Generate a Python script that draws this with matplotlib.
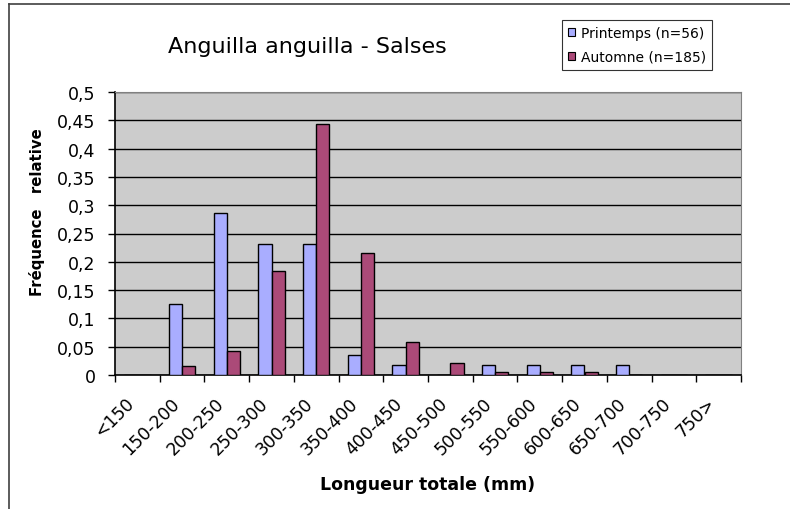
import numpy as np
import matplotlib
matplotlib.use("Agg")
import matplotlib.pyplot as plt
from matplotlib.lines import Line2D
from matplotlib.patches import Patch
from matplotlib.transforms import ScaledTranslation

# ======================
# DATA
# ======================
classes = ["<150", "150-200", "200-250", "250-300", "300-350", "350-400",
           "400-450", "450-500", "500-550", "550-600", "600-650", "650-700",
           "700-750", "750>"]
printemps = [0, 0.125, 0.286, 0.232, 0.232, 0.036, 0.018, 0,
             0.018, 0.018, 0.018, 0.018, 0, 0]
automne = [0, 0.016, 0.043, 0.184, 0.443, 0.216, 0.059, 0.022,
           0.005, 0.005, 0.005, 0, 0, 0]
labels = ["Printemps (n=56)", "Automne (n=185)"]
colors = ["#A9ADFF", "#AB4A78"]

plt.rcParams["font.family"] = ["DejaVu Sans"]

fig = plt.figure(figsize=(7.9, 5.1), dpi=100)
ax = fig.add_axes([115 / 790, 1 - 376 / 510, 626 / 790, 283 / 510])

x = np.arange(len(classes)) + 0.5
w = 0.295
ax.set_axisbelow(True)
ax.set_facecolor("#CCCCCC")
ax.bar(x - w / 2, printemps, w, color=colors[0], edgecolor="black", linewidth=1, zorder=3)
ax.bar(x + w / 2, automne, w, color=colors[1], edgecolor="black", linewidth=1, zorder=3)

ax.set_xlim(0, len(classes))
ax.set_ylim(0, 0.5)
yt = np.arange(0, 0.501, 0.05)
ax.set_yticks(yt)
ax.set_yticklabels([("%g" % v).replace(".", ",") for v in yt], fontsize=12.5)
ax.yaxis.grid(True, color="black", linewidth=1)
ax.tick_params(axis="y", direction="out", length=5, width=1, pad=9)

# category boundaries as ticks, names at the centres
ax.set_xticks(np.arange(len(classes) + 1))
ax.set_xticklabels([])
ax.tick_params(axis="x", which="major", direction="out", length=5, width=1)
ax.set_xticks(x, minor=True)
ax.set_xticklabels(classes, minor=True, rotation=45, ha="right", va="center",
                   rotation_mode="anchor", fontsize=12.5)
ax.tick_params(axis="x", which="minor", length=0, pad=18)
shift = ScaledTranslation(-0.057, 0, fig.dpi_scale_trans)
for lab in ax.get_xticklabels(minor=True):
    lab.set_transform(lab.get_transform() + shift)

for s in ["top", "right"]:
    ax.spines[s].set_color("#808080")
for s in ["left", "bottom"]:
    ax.spines[s].set_color("black")
    ax.spines[s].set_linewidth(1.2)

fig.text(428 / 790, 1 - 485 / 510, "Longueur totale (mm)", fontsize=12.5,
         fontweight="bold", ha="center", va="center")
fig.text(37 / 790, 1 - 212 / 510, "Fréquence   relative", fontsize=10.7,
         fontweight="bold", rotation=90, ha="center", va="center")

fig.text(307.5 / 790, 1 - 47 / 510, "Anguilla anguilla - Salses", fontsize=16,
         ha="center", va="center")

handles = [Patch(facecolor=c, edgecolor="black", linewidth=0.8) for c in colors]
leg = fig.legend(handles, labels, loc="upper left", bbox_to_anchor=(562 / 790, 1 - 21 / 510),
                 fontsize=10, frameon=True, fancybox=False, edgecolor="black",
                 handlelength=0.5, handleheight=0.5, handletextpad=0.5,
                 borderpad=0.4, labelspacing=0.75, borderaxespad=0)
leg.get_frame().set_linewidth(0.8)

# outer frame (top and left)
fig.add_artist(Line2D([9 / 790, 1], [1 - 5 / 510, 1 - 5 / 510], color="#404040", linewidth=1.2))
fig.add_artist(Line2D([9 / 790, 9 / 790], [0, 1 - 5 / 510], color="#404040", linewidth=1.2))

fig.savefig("out.png", dpi=100)
